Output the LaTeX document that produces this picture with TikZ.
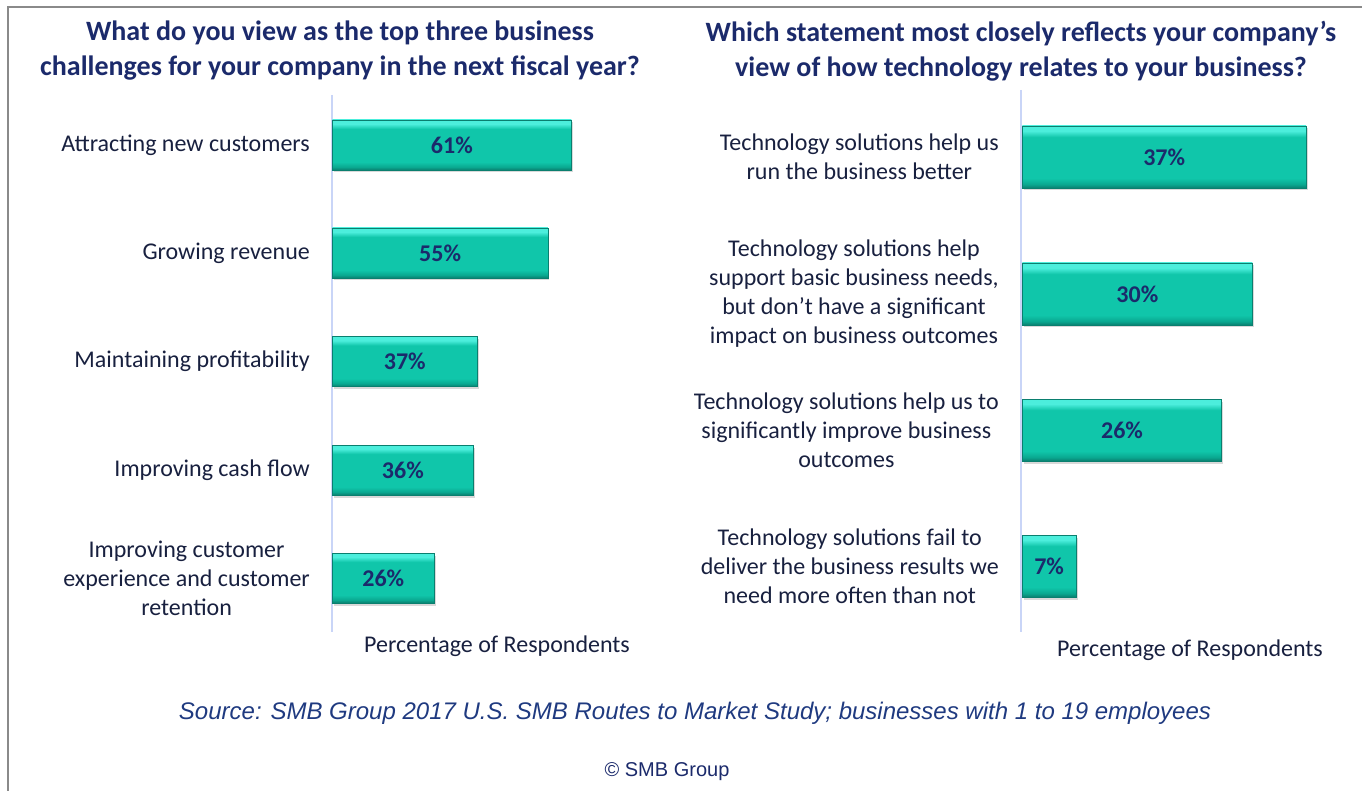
\documentclass[tikz,border=0pt]{standalone}
\usepackage{fontspec}
\setmainfont{Carlito}
\newfontfamily\arialfont{Liberation Sans}
\usetikzlibrary{positioning,shadows}
\definecolor{titleblue}{HTML}{1B2A6B}
\definecolor{labelink}{HTML}{18203F}
\definecolor{tealtop}{HTML}{4CEEDC}
\definecolor{tealmid}{HTML}{10C6AA}
\definecolor{tealbot}{HTML}{0AA890}
\definecolor{tealedge}{HTML}{0A7F6F}
\definecolor{axisblue}{HTML}{C9D5F7}
\definecolor{sourceblue}{HTML}{1F3A80}
\definecolor{framegray}{HTML}{8A8A8A}
\pgfdeclareverticalshading{barshade}{100bp}{color(0bp)=(tealedge); color(25bp)=(tealedge);
  color(28bp)=(tealbot); color(33bp)=(tealmid); color(66bp)=(tealmid);
  color(71bp)=(tealtop); color(75bp)=(tealtop); color(100bp)=(tealtop)}
\tikzset{
  surveybar/.style={draw=tealedge, line width=0.6pt, shading=barshade,
    inner sep=0pt, anchor=west,
    font=\bfseries\fontsize{24}{28}\selectfont, text=titleblue,
    drop shadow={shadow xshift=1.5pt, shadow yshift=-2.5pt, opacity=0.3}},
  itemlabel/.style={align=center, text=labelink, inner sep=0pt,
    font=\fontsize{24}{29}\selectfont},
  charttitle/.style={align=center, text=titleblue, inner sep=0pt,
    font=\bfseries\fontsize{28}{35}\selectfont},
  axisnote/.style={text=labelink, inner sep=0pt, font=\fontsize{24}{28}\selectfont}
}
\newcommand\leftbar[3]{\node[surveybar, minimum height=50pt, minimum width=#2*3.92pt] (lb#1) at (332,#3) {#2\%};}
\newcommand\rightbar[3]{\node[surveybar, minimum height=62pt, minimum width=#2*7.67pt] (rb#1) at (1022,#3) {#2\%};}

\begin{document}
\begin{tikzpicture}[x=1pt,y=-1pt]
\useasboundingbox (0,0) rectangle (1362,791);
\draw[framegray, line width=2pt] (8,791) -- (8,7) -- (1362,7);
% left chart
\node[charttitle] (ltitle) at (340,51) {What do you view as the top three business\\challenges for your company in the next fiscal year?};
\draw[axisblue, line width=1.5pt] (332,95) -- (332,632);
\leftbar1{61}{145}
\leftbar2{55}{253}
\leftbar3{37}{361.5}
\leftbar4{36}{470}
\leftbar5{26}{578}
\foreach \i/\txt in {1/{Attracting new customers}, 2/{Growing revenue},
  3/{Maintaining profitability}, 4/{Improving cash flow},
  5/{Improving customer\\experience and customer\\retention}}
  \node[itemlabel, left=22pt of lb\i] (ll\i) {\txt};
\node[axisnote] (lnote) at (497,646) {Percentage of Respondents};
% right chart
\node[charttitle] (rtitle) at (1021,51) {Which statement most closely reflects your company’s\\view of how technology relates to your business?};
\draw[axisblue, line width=1.5pt] (1021,90) -- (1021,632);
\rightbar1{37}{157}
\rightbar2{30}{294}
\rightbar3{26}{430}
\rightbar4{7}{566}
\foreach \i/\txt in {1/{Technology solutions help us\\run the business better},
  2/{Technology solutions help\\support basic business needs,\\but don’t have a significant\\impact on business outcomes},
  3/{Technology solutions help us to\\significantly improve business\\outcomes},
  4/{Technology solutions fail to\\deliver the business results we\\need more often than not}}
  \node[itemlabel, left=23pt of rb\i] (rl\i) {\txt};
\node[axisnote] (rnote) at (1190,650) {Percentage of Respondents};
% source
\node[text=sourceblue, font=\arialfont\itshape\fontsize{24}{28}\selectfont] (source) at (695,713) {Source: SMB Group 2017 U.S. SMB Routes to Market Study; businesses with 1 to 19 employees};
\node[text=titleblue, font=\arialfont\fontsize{20}{24}\selectfont] (copy) at (667,772) {© SMB Group};
\end{tikzpicture}
\end{document}
